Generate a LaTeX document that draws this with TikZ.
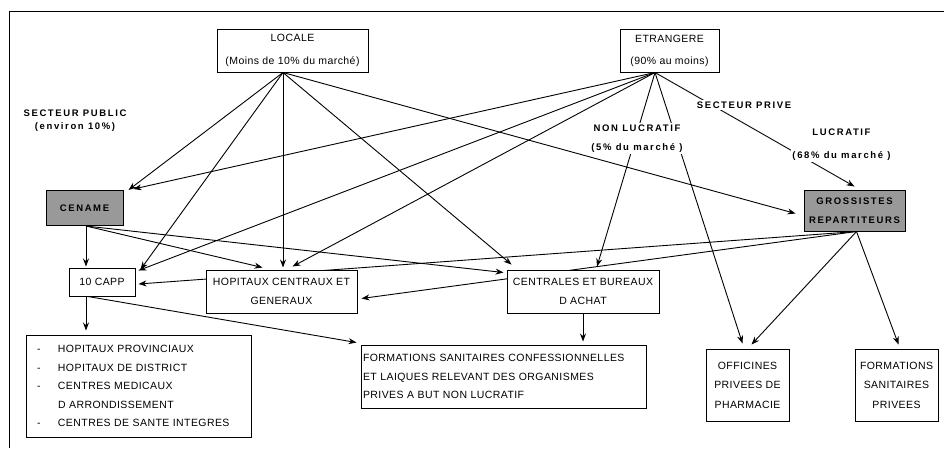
\documentclass[tikz,border=0pt]{standalone}
\usepackage{fontspec}
\setmainfont{Liberation Sans}
\newfontfamily\regf[LetterSpace=4]{Liberation Sans}
\newfontfamily\boldf[LetterSpace=17]{Liberation Sans}
\usetikzlibrary{arrows.meta,calc}
\definecolor{boxgray}{RGB}{153,153,153}
\pgfdeclarelayer{bg}
\pgfsetlayers{bg,main}
\tikzset{
  box/.style={draw,line width=1pt,fill=white,inner sep=0pt,align=center,
    font=\regf\fontsize{10.5}{18.5}\selectfont},
  graybox/.style={box,fill=boxgray,font=\boldf\bfseries\fontsize{9.5}{19}\selectfont},
  lbl/.style={fill=white,inner sep=1.5pt,align=center,
    font=\boldf\bfseries\fontsize{9.5}{19}\selectfont},
  conn/.style={line width=0.9pt,-{Stealth[length=8pt,width=6pt]}},
  frameline/.style={line width=1pt}
}
\begin{document}
\begin{tikzpicture}[x=1pt,y=-1pt]
\useasboundingbox (0,0) rectangle (944,448);
\draw[frameline] (9.5,448) -- (9.5,11) -- (944,11);

% sources
\node[box,minimum width=151,minimum height=43,font=\regf\fontsize{10.5}{22.5}\selectfont]
  (locale) at (292.5,50.5) {LOCALE\\(Moins de 10\% du marché)};
\node[box,minimum width=99,minimum height=43,font=\regf\fontsize{10.5}{22}\selectfont]
  (etr) at (669.5,50.5) {ETRANGERE\\(90\% au moins)};

% labels
\node[lbl,font=\boldf\bfseries\fontsize{9.5}{13}\selectfont] (pub) at (75,120.5)
  {SECTEUR PUBLIC\\(environ 10\%)};
\node[lbl] (prive) at (744,105) {SECTEUR PRIVE};
\node[lbl] (nonluc) at (637,138.5) {NON LUCRATIF\\(5\% du marché )};
\node[lbl,font=\boldf\bfseries\fontsize{9.5}{23}\selectfont] (luc) at (841.5,144.5)
  {LUCRATIF\\(68\% du marché )};

% gray boxes
\node[graybox,minimum width=77,minimum height=35] (cename) at (84.5,208) {CENAME};
\node[graybox,minimum width=101,minimum height=41] (gross) at (854.5,210.5)
  {GROSSISTES\\REPARTITEURS};

% middle boxes
\node[box,minimum width=66,minimum height=28] (capp) at (102,282) {10 CAPP};
\node[box,minimum width=151,minimum height=43] (hop) at (281.5,291.5)
  {HOPITAUX CENTRAUX ET\\GENERAUX};
\node[box,minimum width=152,minimum height=43] (centr) at (583,291.5)
  {CENTRALES ET BUREAUX\\D ACHAT};

% bottom boxes
\node[box,text width=203,inner xsep=11,minimum height=102,align=left] (list) at (138.5,386)
  {\makebox[21pt][l]{-}HOPITAUX PROVINCIAUX\\
   \makebox[21pt][l]{-}HOPITAUX DE DISTRICT\\
   \makebox[21pt][l]{-}CENTRES MEDICAUX\\
   \hspace*{21pt}D ARRONDISSEMENT\\
   \makebox[21pt][l]{-}CENTRES DE SANTE INTEGRES};
\node[box,text width=281,inner xsep=2,minimum height=63,align=left] (formconf) at (503.5,376.5)
  {FORMATIONS SANITAIRES CONFESSIONNELLES\\
   ET LAIQUES RELEVANT DES ORGANISMES\\
   PRIVES A BUT NON LUCRATIF};
\node[box,minimum width=83,minimum height=72,font=\regf\fontsize{10.5}{19.5}\selectfont]
  (offi) at (747.5,385) {OFFICINES\\PRIVEES DE\\PHARMACIE};
\node[box,minimum width=83,minimum height=72,font=\regf\fontsize{10.5}{19.5}\selectfont]
  (fsp) at (896.5,385) {FORMATIONS\\SANITAIRES\\PRIVEES};

% connectors (behind nodes)
\begin{pgfonlayer}{bg}
\coordinate (lo) at ($(locale.south)+(-9.5,0)$);
\coordinate (eo) at ($(etr.south)+(-14.5,0)$);
\coordinate (cs) at ($(cename.south)+(1.5,0)$);
\coordinate (gs) at ($(gross.south)+(2,0)$);
\coordinate (cb) at ($(capp.south)+(-16,0)$);

% from LOCALE
\draw[conn] (lo) -- ($(cename.north east)+(5,0)$);
\draw[conn] (lo) -- ($(capp.north east)+(5,2)$);
\draw[conn,shorten >=2pt] (lo) -- (lo |- hop.north);
\draw[conn] (lo) -- ($(centr.north west)+(5,-5)$);
\draw[conn] (lo) -- ($(gross.west)+(-8,3)$);

% from ETRANGERE
\draw[conn] (eo) -- ($(cename.north east)+(10,-1)$);
\draw[conn] (eo) -- ($(capp.north east)+(3,3)$);
\draw[conn] (eo) -- ($(hop.north)+(11,-3)$);
\draw[conn] (eo) -- ($(centr.north)+(14,-3)$);
\draw[conn] (eo) -- ($(offi.north)+(-5,-5)$);
\draw[conn] (eo) -- ($(gross.north)+(0,-3)$);

% from CENAME
\draw[conn,shorten >=1pt] (cs) -- (cs |- capp.north);
\draw[conn] (cs) -- ($(hop.north west)+(57,-2)$);
\draw[conn] (cs) -- ($(centr.north west)+(-3,3)$);

% from GROSSISTES
\draw[conn] (gs) -- ($(capp.east)+(3,2)$);
\draw[conn] (gs) -- ($(hop.east)+(4,7)$);
\draw[conn] (gs) -- ($(offi.north)+(4,-4)$);
\draw[conn] (gs) -- ($(fsp.north)+(2,-4)$);

% from 10 CAPP and CENTRALES
\draw[conn,shorten >=4pt] (cb) -- (cb |- list.north);
\draw[conn] ($(cb)+(2,0)$) -- ($(formconf.north west)+(-4,-2)$);
\draw[conn,shorten >=3pt] (centr.south) -- (centr.south |- formconf.north);
\end{pgfonlayer}
\end{tikzpicture}
\end{document}
